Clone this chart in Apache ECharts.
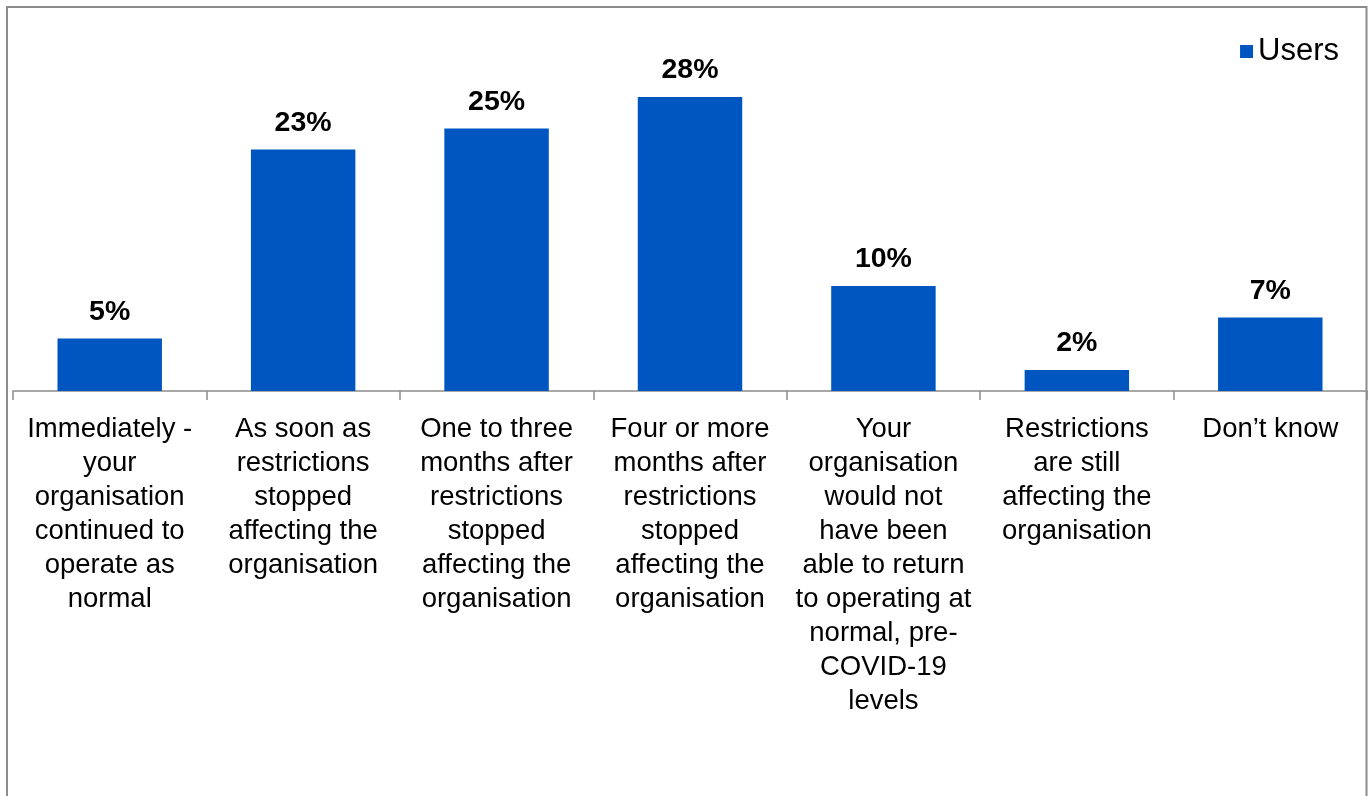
<!DOCTYPE html>
<html>
<head>
<meta charset="utf-8">
<script src="https://cdn.jsdelivr.net/npm/echarts@6/dist/echarts.min.js"></script>
<style>
  html, body { margin: 0; padding: 0; background: #fff; }
  #chart { width: 1370px; height: 796px; }
</style>
</head>
<body>
<div id="chart"></div>
<script>
// When organisations expect to return to normal operation
const categories = [
  'Immediately -\nyour\norganisation\ncontinued to\noperate as\nnormal',
  'As soon as\nrestrictions\nstopped\naffecting the\norganisation',
  'One to three\nmonths after\nrestrictions\nstopped\naffecting the\norganisation',
  'Four or more\nmonths after\nrestrictions\nstopped\naffecting the\norganisation',
  'Your\norganisation\nwould not\nhave been\nable to return\nto operating at\nnormal, pre-\nCOVID-19\nlevels',
  'Restrictions\nare still\naffecting the\norganisation',
  'Don\u2019t know'
];
const seriesName = 'Users';
const usersPct = [5, 23, 25, 28, 10, 2, 7];

const chart = echarts.init(document.getElementById('chart'));
const font = '"Liberation Sans", Arial, Helvetica, sans-serif';

chart.setOption({
  animation: false,
  backgroundColor: '#fff',
  textStyle: { fontFamily: font },
  graphic: [{
    type: 'rect',
    shape: { x: 7, y: 7, width: 1359.5, height: 900 },
    style: { fill: 'none', stroke: '#8c8c8c', lineWidth: 2 },
    silent: true
  }],
  legend: {
    data: [seriesName],
    right: 26,
    top: 31,
    icon: 'rect',
    itemWidth: 13,
    itemHeight: 13,
    itemGap: 10,
    textStyle: { fontSize: 31, color: '#000', fontFamily: font }
  },
  grid: { left: 13, right: 3, top: 76, bottom: 405, containLabel: false },
  xAxis: {
    type: 'category',
    data: categories,
    boundaryGap: true,
    axisLine: { lineStyle: { color: '#8c8c8c', width: 1.5 } },
    axisTick: { show: true, length: 9, lineStyle: { color: '#8c8c8c', width: 1.5 } },
    axisLabel: {
      interval: 0,
      margin: 21,
      fontSize: 27.5,
      lineHeight: 34,
      color: '#000',
      fontFamily: font,
      verticalAlign: 'top'
    }
  },
  yAxis: {
    type: 'value',
    min: 0,
    max: 30,
    show: false,
    splitLine: { show: false }
  },
  series: [{
    name: seriesName,
    type: 'bar',
    data: usersPct,
    barWidth: '54%',
    itemStyle: { color: '#0056C1' },
    label: {
      show: true,
      position: 'top',
      distance: 12,
      formatter: p => p.value + '%',
      fontSize: 28.5,
      fontWeight: 'bold',
      color: '#000',
      fontFamily: font
    }
  }]
});
</script>
</body>
</html>
